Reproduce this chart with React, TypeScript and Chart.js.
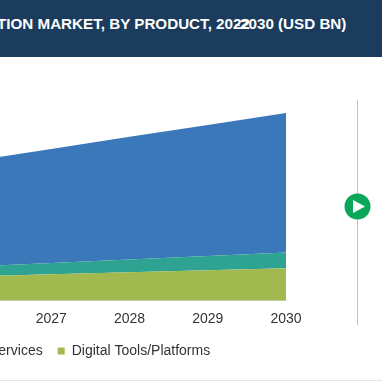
import React, { useEffect, useRef } from "react";
import { Chart, registerables } from "chart.js";

Chart.register(...registerables);

const years = ["2026", "2027", "2028", "2029", "2030"];
const digitalTools = [2.43, 2.65, 2.85, 3.05, 3.25];
const services = [1.0, 1.14, 1.29, 1.45, 1.6];
const content = [10.6, 11.45, 12.31, 13.14, 14.0];
const seriesNames = ["Content", "Services", "Digital Tools/Platforms"];
const titleLeft = "TION MARKET, BY PRODUCT, 2022";
const titleRight = "-2030 (USD BN)";

export default function App() {
  const ref = useRef<HTMLCanvasElement>(null);
  useEffect(() => {
    document.body.style.margin = "0";
    document.body.style.background = "#fff";
    const chart = new Chart(ref.current!, {
      type: "line",
      data: {
        labels: years,
        datasets: [
          { label: seriesNames[2], data: digitalTools, backgroundColor: "#a2b94f", borderWidth: 0, pointRadius: 0, fill: "origin", tension: 0 },
          { label: seriesNames[1], data: services, backgroundColor: "#2fa392", borderWidth: 0, pointRadius: 0, fill: "-1", tension: 0 },
          { label: seriesNames[0], data: content, backgroundColor: "#3a78b9", borderWidth: 0, pointRadius: 0, fill: "-1", tension: 0 },
        ],
      },
      options: {
        responsive: false,
        animation: false,
        layout: { padding: { left: 146, right: 24, top: 101.5, bottom: 14 } },
        plugins: {
          title: { display: false },
          tooltip: { enabled: false },
          legend: {
            display: true,
            position: "bottom",
            align: "start",
            reverse: true,
            labels: {
              boxWidth: 7,
              boxHeight: 7,
              color: "#333333",
              padding: 15,
              filter: (item: { text: string }) => item.text !== seriesNames[0],
              font: { family: "'Liberation Sans', Arial, sans-serif", size: 14 },
            },
          },
        },
        scales: {
          x: {
            offset: false,
            border: { color: "#d8dfe6", width: 1 },
            grid: { display: false, drawTicks: true, tickLength: 3, tickColor: "#d8dfe6" },
            ticks: { color: "#333333", maxRotation: 0, autoSkip: false, padding: 7, font: { family: "'Liberation Sans', Arial, sans-serif", size: 14 } },
            afterFit: (s: { height: number }) => { s.height -= 5.5; },
          },
          y: {
            display: true,
            stacked: true,
            min: 0,
            max: 20,
            border: { display: false },
            grid: { display: false },
            ticks: { display: false },
            afterFit: (s: { width: number }) => { s.width = 13; },
          },
        },
      },
    });
    return () => chart.destroy();
  }, []);

  const titleFont = "bold 15.2px 'Liberation Sans', Arial, sans-serif";
  return (
    <div style={{ position: "relative", width: 382, height: 382, overflow: "hidden", background: "#fff" }}>
      <div style={{ position: "absolute", left: 0, top: 0, width: 382, height: 57, background: "#1b3c5d", overflow: "hidden" }}>
        <span style={{ position: "absolute", left: -3, top: 15, whiteSpace: "nowrap", color: "#fff", font: titleFont }}>{titleLeft}</span>
        <span style={{ position: "absolute", left: 235, top: 15, whiteSpace: "nowrap", color: "#fff", font: titleFont }}>{titleRight}</span>
      </div>
      <canvas ref={ref} width={496} height={382} style={{ position: "absolute", left: -186, top: 0, width: 496, height: 382 }} />
      <div style={{ position: "absolute", left: 357, top: 100, width: 1, height: 225, background: "#c4c4c4" }} />
      <svg style={{ position: "absolute", left: 344, top: 193 }} width={27} height={27}>
        <circle cx={13.5} cy={13.5} r={13} fill="#0aa75a" />
        <polygon points="9,7 21,13.5 9,20" fill="#fff" />
      </svg>
      <div style={{ position: "absolute", left: 0, top: 380, width: 382, height: 1, background: "#e6e6e6" }} />
    </div>
  );
}
